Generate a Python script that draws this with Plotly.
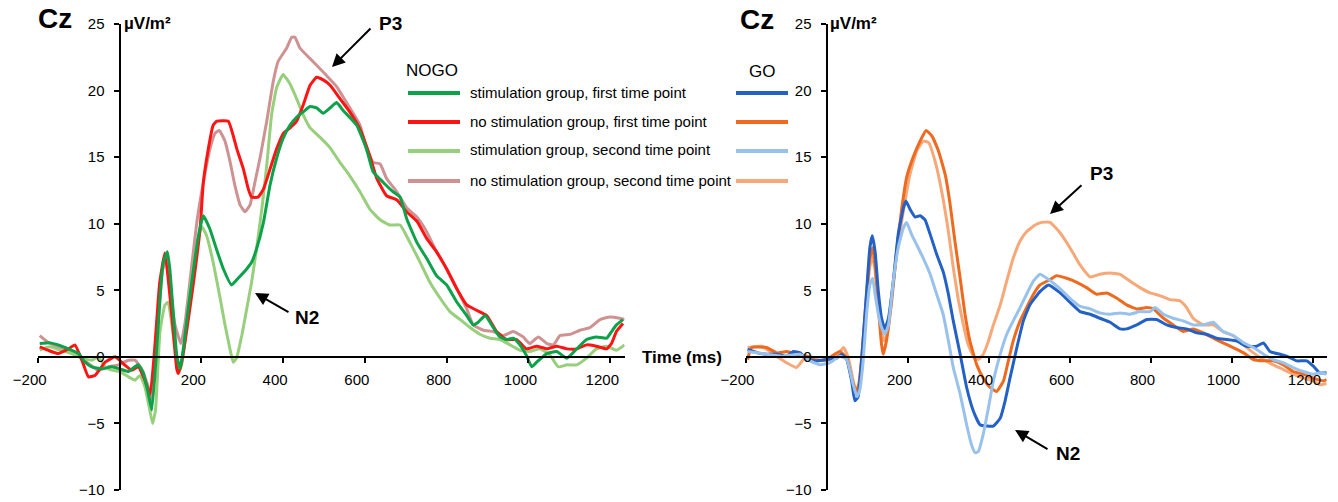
import plotly.graph_objects as go

# ---------------- DATA ----------------
# NOGO, stimulation group, first time point (dark green)
nogo_stim_first_t = [-195, -170, -150, -125, -100, -84, -68, -44, -19, 0, 22, 33, 46, 58, 70, 79, 91, 99, 107, 117, 123, 132, 140, 148, 156, 168, 181, 193, 205, 221, 237, 254, 274, 290, 311, 323, 335, 352, 368, 384, 400, 417, 433, 449, 466, 482, 498, 515, 531, 547, 580, 604, 620, 645, 669, 686, 702, 727, 751, 775, 800, 825, 849, 865, 877, 894, 914, 930, 946, 963, 979, 995, 1008, 1020, 1045, 1069, 1094, 1118, 1142, 1166, 1191, 1203, 1215, 1231]
nogo_stim_first_v = [1.0, 1.05, 0.9, 0.6, 0.25, -0.4, -0.75, -0.9, -0.75, -0.9, -1.1, -0.85, -0.6, -1.2, -2.7, -4.0, 0.6, 4.4, 7.1, 7.9, 6.6, 3.1, 0.1, -0.9, 0.6, 3.6, 6.6, 9.1, 10.6, 9.6, 8.1, 6.6, 5.4, 5.9, 6.6, 7.1, 8.1, 10.1, 12.9, 14.9, 16.4, 17.4, 18.0, 18.4, 18.8, 18.7, 18.3, 18.7, 19.1, 18.5, 17.4, 15.6, 13.9, 13.1, 12.4, 12.0, 10.4, 8.6, 7.4, 6.1, 5.4, 4.1, 3.1, 2.4, 2.6, 3.1, 2.2, 1.5, 1.3, 1.4, 0.9, 0.1, -0.75, -0.4, 0.25, 0.4, -0.1, 0.6, 1.3, 1.5, 1.4, 1.9, 2.4, 2.8]

# NOGO, no stimulation group, first time point (red)
nogo_nostim_first_t = [-195, -175, -150, -125, -109, -92, -76, -60, -35, -11, 5, 30, 46, 62, 75, 87, 98, 111, 128, 140, 144, 152, 164, 181, 197, 205, 217, 229, 238, 266, 287, 303, 315, 323, 339, 352, 368, 384, 401, 417, 433, 449, 466, 482, 498, 515, 539, 563, 588, 612, 629, 653, 678, 702, 727, 751, 775, 800, 825, 849, 873, 898, 922, 946, 971, 995, 1020, 1045, 1069, 1094, 1118, 1142, 1166, 1191, 1203, 1215, 1231]
nogo_nostim_first_v = [0.75, 0.5, 0.25, 0.6, 0.9, -0.25, -1.5, -1.4, -0.4, 0.0, -0.4, -1.0, -0.75, -1.75, -2.8, 1.0, 5.5, 7.8, 3.1, -0.9, -1.25, -0.4, 1.9, 5.6, 9.6, 13.1, 15.6, 17.4, 17.7, 17.7, 15.6, 14.1, 12.6, 12.0, 12.0, 12.6, 14.1, 15.6, 16.8, 17.2, 17.7, 18.9, 20.4, 21.0, 20.8, 20.4, 19.4, 18.4, 17.1, 15.1, 13.4, 12.1, 11.8, 10.9, 10.2, 8.9, 7.9, 6.6, 5.1, 3.9, 3.5, 3.1, 1.9, 1.3, 1.3, 0.6, 0.8, 0.6, 0.8, 0.6, 0.6, 0.9, 0.8, 0.6, 1.0, 1.9, 2.5]

# NOGO, stimulation group, second time point (light green)
nogo_stim_second_t = [-195, -170, -145, -117, -92, -68, -52, -35, -19, 0, 22, 38, 50, 62, 74, 81, 88, 99, 111, 119, 128, 140, 150, 158, 172, 189, 201, 213, 229, 246, 258, 270, 278, 286, 299, 311, 323, 335, 348, 360, 372, 384, 400, 417, 433, 449, 466, 490, 515, 539, 563, 588, 612, 637, 661, 686, 710, 735, 759, 784, 808, 833, 857, 881, 906, 930, 955, 979, 1003, 1028, 1053, 1073, 1094, 1118, 1142, 1166, 1191, 1215, 1235]
nogo_stim_second_v = [0.5, 0.75, 0.5, 0.25, -0.1, -0.25, 0.0, -0.75, -1.0, -1.1, -1.5, -1.75, -1.4, -2.25, -4.0, -5.0, -4.0, 1.9, 3.9, 4.1, 2.4, -0.1, -0.9, 0.6, 4.9, 8.4, 9.8, 9.1, 7.1, 4.4, 2.4, 0.6, -0.4, -0.1, 1.6, 3.6, 5.6, 8.1, 11.1, 14.4, 18.2, 20.2, 21.2, 20.5, 19.4, 18.2, 17.2, 16.5, 15.7, 14.6, 13.6, 12.4, 11.1, 10.3, 9.9, 9.9, 8.6, 7.1, 5.6, 4.4, 3.4, 2.8, 2.2, 1.7, 1.4, 1.3, 0.9, 0.5, 0.4, 0.6, 0.1, -0.75, -0.6, -0.6, -0.1, 0.6, 0.8, 0.5, 0.9]

# NOGO, no stimulation group, second time point (rose)
nogo_nostim_second_t = [-195, -175, -150, -125, -100, -76, -52, -27, -3, 22, 38, 54, 70, 78, 90, 105, 115, 125, 135, 150, 160, 172, 189, 205, 221, 234, 244, 258, 270, 282, 295, 307, 319, 331, 344, 360, 376, 388, 409, 421, 429, 441, 466, 498, 531, 563, 588, 604, 620, 637, 653, 678, 702, 727, 751, 775, 800, 825, 849, 865, 890, 914, 938, 963, 987, 1003, 1024, 1045, 1061, 1077, 1102, 1126, 1150, 1175, 1199, 1223, 1235]
nogo_nostim_second_v = [1.6, 1.1, 0.75, 0.5, 0.1, -0.5, -1.0, -0.75, -0.6, -0.25, -0.25, -0.9, -2.25, -3.2, 0.5, 6.5, 7.3, 5.0, 2.5, 1.0, 2.5, 5.6, 10.1, 13.1, 15.6, 16.8, 17.0, 16.2, 14.7, 12.9, 11.4, 10.9, 11.4, 13.1, 15.0, 17.7, 20.7, 22.2, 23.2, 24.0, 24.0, 23.2, 22.4, 21.4, 20.3, 18.7, 17.4, 15.6, 14.6, 14.5, 13.4, 12.4, 11.2, 10.5, 9.4, 7.9, 6.6, 5.1, 3.6, 2.4, 2.0, 1.9, 1.6, 1.9, 1.5, 1.0, 1.5, 1.0, 0.9, 1.6, 1.7, 2.0, 2.2, 2.8, 3.0, 2.9, 2.8]

# GO, stimulation group, first time point (dark blue)
go_stim_first_t = [-195, -170, -148, -123, -98, -82, -65, -49, -24, 0, 25, 37, 50, 62, 70, 78, 87, 99, 107, 113, 120, 128, 136, 144, 153, 165, 177, 190, 196, 206, 219, 231, 243, 256, 272, 288, 301, 313, 330, 346, 363, 379, 396, 412, 429, 441, 453, 470, 486, 502, 527, 548, 577, 601, 626, 651, 675, 700, 725, 741, 766, 791, 815, 840, 864, 889, 914, 938, 963, 988, 1012, 1037, 1062, 1079, 1095, 1120, 1136, 1161, 1186, 1202, 1218, 1235]
go_stim_first_v = [0.55, 0.3, 0.2, 0.2, 0.05, 0.4, 0.3, -0.2, -0.3, -0.2, -0.1, 0.2, -0.2, -1.8, -3.3, -3.0, -0.1, 4.9, 8.2, 9.1, 7.9, 4.9, 2.9, 2.1, 2.9, 5.7, 9.2, 11.2, 11.7, 11.1, 10.5, 10.6, 10.3, 9.2, 7.7, 6.4, 4.7, 2.7, 0.2, -2.3, -4.1, -5.1, -5.2, -5.2, -4.6, -3.3, -1.6, 0.7, 2.7, 3.9, 4.9, 5.4, 4.8, 4.1, 3.4, 3.2, 2.9, 2.6, 2.1, 2.1, 2.4, 2.8, 2.8, 2.4, 2.2, 2.1, 1.8, 1.7, 1.4, 1.3, 1.2, 0.8, 0.8, 1.05, 0.4, 0.2, 0.05, -0.3, -0.3, -0.7, -1.2, -1.2]

# GO, no stimulation group, first time point (orange)
go_nostim_first_t = [-195, -185, -148, -123, -98, -74, -49, -24, 0, 33, 50, 62, 73, 80, 87, 99, 107, 114, 120, 128, 136, 140, 148, 161, 173, 186, 198, 214, 231, 246, 260, 276, 293, 305, 317, 330, 342, 354, 371, 387, 404, 420, 437, 449, 461, 478, 494, 511, 527, 552, 568, 593, 618, 642, 667, 692, 717, 741, 766, 791, 807, 832, 856, 881, 905, 930, 955, 979, 1004, 1030, 1054, 1079, 1103, 1128, 1152, 1177, 1202, 1227, 1235]
go_nostim_first_v = [-0.2, 0.7, 0.7, 0.3, 0.4, 0.2, 0.05, -0.3, -0.2, 0.4, -0.1, -1.6, -2.6, -2.0, 0.0, 4.7, 7.4, 8.2, 6.9, 3.7, 0.9, 0.2, 1.2, 4.2, 7.9, 11.2, 13.5, 15.0, 16.2, 17.0, 16.6, 15.5, 13.7, 11.5, 8.7, 5.9, 3.2, 1.2, -0.6, -1.6, -2.3, -2.6, -1.8, -0.3, 1.2, 2.7, 3.7, 4.7, 5.4, 5.8, 6.1, 5.9, 5.6, 5.2, 4.7, 4.8, 4.4, 3.9, 3.6, 3.7, 3.6, 2.9, 2.4, 1.9, 2.1, 1.8, 1.4, 1.05, 0.7, 0.3, -0.2, -0.3, -0.3, -0.6, -1.1, -1.3, -1.6, -1.8, -1.7]

# GO, stimulation group, second time point (light blue)
go_stim_second_t = [-195, -148, -107, -65, -41, -16, 8, 33, 50, 66, 75, 82, 90, 99, 107, 114, 120, 128, 136, 144, 153, 165, 177, 190, 198, 210, 223, 239, 256, 272, 288, 301, 313, 330, 346, 358, 367, 375, 387, 400, 412, 429, 445, 461, 478, 494, 511, 527, 544, 577, 601, 626, 651, 675, 700, 725, 749, 774, 799, 811, 832, 856, 881, 905, 930, 955, 979, 1004, 1030, 1054, 1079, 1103, 1128, 1152, 1177, 1202, 1218, 1235]
go_stim_second_v = [0.4, 0.2, 0.05, 0.2, -0.3, -0.6, -0.45, 0.05, -0.2, -2.1, -3.0, -2.5, -0.5, 3.2, 5.4, 5.9, 4.7, 3.2, 2.2, 1.7, 2.4, 5.7, 8.2, 9.7, 10.1, 9.2, 8.4, 7.4, 6.2, 4.7, 3.2, 1.2, -0.8, -2.8, -5.1, -6.6, -7.2, -7.1, -5.8, -3.8, -1.8, 0.2, 1.7, 2.7, 3.7, 4.7, 5.7, 6.2, 5.9, 5.1, 4.4, 3.8, 3.6, 3.3, 3.2, 3.3, 3.2, 3.4, 3.4, 3.7, 3.2, 2.9, 2.7, 2.4, 2.4, 2.6, 1.9, 1.6, 1.05, 0.7, 0.2, -0.2, -0.45, -0.8, -1.1, -1.3, -1.2, -1.3]

# GO, no stimulation group, second time point (light orange)
go_nostim_second_t = [-195, -160, -131, -98, -74, -57, -41, -24, 0, 25, 42, 54, 66, 74, 82, 90, 99, 107, 114, 120, 128, 136, 142, 150, 161, 173, 190, 206, 223, 239, 252, 268, 284, 301, 313, 326, 338, 350, 363, 375, 387, 400, 412, 429, 445, 461, 478, 494, 515, 531, 552, 577, 601, 626, 651, 675, 700, 725, 749, 774, 799, 823, 848, 873, 889, 905, 930, 955, 979, 1004, 1030, 1054, 1079, 1103, 1128, 1152, 1177, 1202, 1218, 1235]
go_nostim_second_v = [0.7, 0.8, 0.2, -0.45, -0.8, -0.2, 0.05, -0.2, -0.3, 0.05, 0.7, -0.1, -1.8, -2.8, -2.0, 0.5, 4.0, 6.8, 7.5, 6.5, 3.8, 1.8, 1.2, 1.8, 4.5, 7.7, 11.0, 13.7, 15.5, 16.2, 16.1, 14.7, 12.5, 9.4, 6.7, 4.2, 2.4, 0.9, 0.05, -0.2, 0.2, 1.2, 2.4, 3.9, 5.7, 7.4, 8.7, 9.4, 9.9, 10.1, 10.1, 9.3, 8.2, 6.9, 6.0, 6.2, 6.3, 6.2, 5.7, 5.2, 4.8, 4.6, 4.3, 4.2, 3.7, 2.9, 2.4, 2.4, 1.9, 1.6, 0.9, 0.3, -0.2, -0.6, -0.95, -1.3, -1.6, -1.8, -2.1, -2.0]

legend_labels = [
    "stimulation group, first time point",
    "no stimulation group, first time point",
    "stimulation group, second time point",
    "no stimulation group, second time point",
]
nogo_colors = ["#0BA24A", "#FF1414", "#98CF7C", "#CF9292"]
go_colors = ["#2361C6", "#EE6A1E", "#98C2EC", "#F6A878"]

x_ticks = [-200, 200, 400, 600, 800, 1000, 1200]
y_ticks = [-10, -5, 0, 5, 10, 15, 20, 25]
x_range = [-200, 1235]
y_range = [-10, 25]

# ---------------- FIGURE ----------------
W, H = 1338, 502
FONT = "Liberation Sans, Arial, sans-serif"


def px(x):
    return x / W


def py(y):
    return 1 - y / H


fig = go.Figure()

nogo_series = [
    (nogo_stim_first_t, nogo_stim_first_v),
    (nogo_nostim_first_t, nogo_nostim_first_v),
    (nogo_stim_second_t, nogo_stim_second_v),
    (nogo_nostim_second_t, nogo_nostim_second_v),
]
go_series = [
    (go_stim_first_t, go_stim_first_v),
    (go_nostim_first_t, go_nostim_first_v),
    (go_stim_second_t, go_stim_second_v),
    (go_nostim_second_t, go_nostim_second_v),
]

for i in [3, 2, 1, 0]:
    t, v = nogo_series[i]
    fig.add_trace(go.Scatter(x=t, y=v, mode="lines", name="NOGO " + legend_labels[i],
                             line=dict(color=nogo_colors[i], width=3, shape="spline", smoothing=0.4),
                             xaxis="x", yaxis="y", showlegend=False))
for i in [3, 1, 0, 2]:
    t, v = go_series[i]
    fig.add_trace(go.Scatter(x=t, y=v, mode="lines", name="GO " + legend_labels[i],
                             line=dict(color=go_colors[i], width=3, shape="spline", smoothing=0.4),
                             xaxis="x2", yaxis="y2", showlegend=False))

ydom = [12 / H, 1 - 24 / H]
xaxis_common = dict(range=x_range, tickvals=x_ticks, showgrid=False, zeroline=False,
                    showline=True, linecolor="black", linewidth=2,
                    ticks="outside", ticklen=5, tickwidth=2, tickcolor="black",
                    tickfont=dict(family=FONT, size=15, color="black"),
                    ticklabelshift=-8, ticklabelstandoff=4, automargin=False,
                    anchor="free", position=1 - 356.9 / H)
yaxis_common = dict(range=y_range, tickvals=y_ticks, showgrid=False, zeroline=False,
                    showline=True, linecolor="black", linewidth=2,
                    ticks="outside", ticklen=5, tickwidth=2, tickcolor="black",
                    tickfont=dict(family=FONT, size=15, color="black"),
                    ticklabelstandoff=6, domain=ydom, anchor="free", automargin=False)

fig.update_layout(
    width=W, height=H,
    margin=dict(l=0, r=0, t=0, b=0, autoexpand=False),
    showlegend=False,
    paper_bgcolor="white", plot_bgcolor="rgba(0,0,0,0)",
    xaxis=dict(domain=[px(37.7), px(624.6)], **xaxis_common),
    yaxis=dict(position=px(119.5), **yaxis_common),
    xaxis2=dict(domain=[px(745.5), px(1326.7)], **xaxis_common),
    yaxis2=dict(position=px(826.5), **yaxis_common),
)

ann = []


def text(x, y, s, size=15, bold=False, xanchor="center"):
    ann.append(dict(x=px(x), y=py(y), xref="paper", yref="paper", text=("<b>%s</b>" % s) if bold else s,
                    showarrow=False, xanchor=xanchor, yanchor="middle",
                    font=dict(family=FONT, size=size, color="black")))


def arrow(hx, hy, tx, ty):
    ann.append(dict(x=px(hx), y=py(hy), xref="paper", yref="paper", text="",
                    ax=tx - hx, ay=ty - hy, axref="pixel", ayref="pixel",
                    showarrow=True, arrowhead=2, arrowsize=1.3, arrowwidth=2, arrowcolor="black"))


# Panel titles / units
text(55, 19, "Cz", size=28, bold=True)
text(757, 20, "Cz", size=28, bold=True)
text(122, 24, "µV/m²", size=17, bold=True, xanchor="left")
text(828, 24, "µV/m²", size=17, bold=True, xanchor="left")
text(682, 357, "Time (ms)", size=17, bold=True)

# ERP component labels
text(390, 24, "P3", size=19, bold=True)
arrow(332, 67, 372, 27)
text(307, 317, "N2", size=19, bold=True)
arrow(255, 293, 290, 313)
text(1101, 173, "P3", size=19, bold=True)
arrow(1050, 214, 1083, 184)
text(1068, 453, "N2", size=19, bold=True)
arrow(1015, 430, 1049, 450)

# Legend
text(432, 70, "NOGO", size=17)
text(762, 72, "GO", size=17)
rows = [92, 121, 150, 180]
shapes = []
for i, yy in enumerate(rows):
    text(468, yy, legend_labels[i], size=15, xanchor="left")
    shapes.append(dict(type="line", xref="paper", yref="paper", x0=px(408), x1=px(460),
                       y0=py(yy + 1), y1=py(yy + 1), line=dict(color=nogo_colors[i], width=4)))
    shapes.append(dict(type="line", xref="paper", yref="paper", x0=px(736), x1=px(788),
                       y0=py(yy + 1), y1=py(yy + 1), line=dict(color=go_colors[i], width=4)))

fig.update_layout(annotations=ann, shapes=shapes)

fig.write_html("out.html", config={"displayModeBar": False},
               post_script="document.body.style.margin='0px';document.body.style.overflow='hidden';")
